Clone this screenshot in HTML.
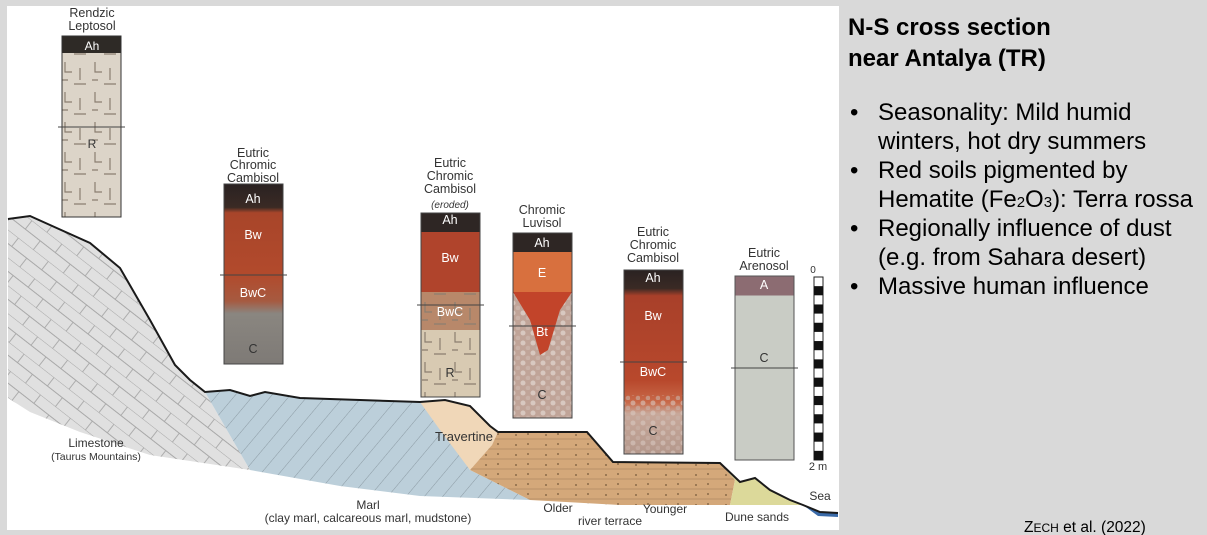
<!DOCTYPE html>
<html><head><meta charset="utf-8"><style>
html,body{margin:0;padding:0;background:#d9d9d9;}
body{width:1207px;height:535px;position:relative;overflow:hidden;font-family:"Liberation Sans",Arial,sans-serif;}
svg{position:absolute;left:0;top:0;}
.t{font-family:"Liberation Sans",Arial,sans-serif;}
</style></head><body>
<svg width="1207" height="535" viewBox="0 0 1207 535">
<defs>
<pattern id="brick" width="38" height="22" patternUnits="userSpaceOnUse" patternTransform="rotate(38)">
<path d="M0 0H38M0 11H38M9 0V11M28 11V22" stroke="#a8a8a8" stroke-width="0.9" fill="none"/></pattern>
<pattern id="hatch" width="14" height="14" patternUnits="userSpaceOnUse" patternTransform="rotate(40)">
<path d="M0 0V14" stroke="#7f8d96" stroke-width="0.8"/></pattern>
<pattern id="terr" width="30" height="10" patternUnits="userSpaceOnUse">
<path d="M0 9H30" stroke="#9c7a55" stroke-width="0.6"/><circle cx="6" cy="5" r="1" fill="#8a6a48"/><circle cx="18" cy="4" r="1" fill="#8a6a48"/></pattern>
<pattern id="grav" width="10" height="10" patternUnits="userSpaceOnUse">
<circle cx="3" cy="3" r="2.5" fill="#d8c8c0"/><circle cx="8" cy="8" r="2.3" fill="#c9b2a8"/></pattern>
<pattern id="cracks" width="30" height="30" patternUnits="userSpaceOnUse">
<path d="M5 2V12H12M20 8V20M14 24H26M2 20H8" stroke="#8a7e70" stroke-width="1.2" fill="none"/></pattern>
<linearGradient id="g1" x1="0" y1="0" x2="0" y2="1">
<stop offset="0" stop-color="#2a2222"/><stop offset="0.13" stop-color="#3a2a24"/><stop offset="0.16" stop-color="#a8452a"/><stop offset="0.5" stop-color="#b24a2c"/><stop offset="0.65" stop-color="#a65a40"/><stop offset="0.72" stop-color="#8a8680"/><stop offset="1" stop-color="#7e7a76"/></linearGradient>
<linearGradient id="g3" x1="0" y1="0" x2="0" y2="1">
<stop offset="0" stop-color="#2a2222"/><stop offset="0.1" stop-color="#3a2a24"/><stop offset="0.14" stop-color="#a8402a"/><stop offset="0.6" stop-color="#b8482c"/><stop offset="0.72" stop-color="#c86a4a"/><stop offset="0.78" stop-color="#c8a89a"/><stop offset="1" stop-color="#b4988c"/></linearGradient>
</defs>
<rect x="7" y="6" width="832" height="524" fill="#ffffff"/>

<path d="M8 219 L30 216 L50 225 L90 243 L120 268 L150 320 L175 365 L190 380 L205 392 L250 470 L150 455 L80 432 L30 412 L8 398 Z" fill="#e0e0e0"/>
<path d="M8 219 L30 216 L50 225 L90 243 L120 268 L150 320 L175 365 L190 380 L205 392 L250 470 L150 455 L80 432 L30 412 L8 398 Z" fill="url(#brick)"/>
<path d="M205 392 L230 390 L250 396 L265 392 L300 398 L360 400 L420 402 L430 404 L470 470 L530 500 L420 496 L340 486 L250 470 Z" fill="#bccfda"/>
<path d="M205 392 L230 390 L250 396 L265 392 L300 398 L360 400 L420 402 L430 404 L470 470 L530 500 L420 496 L340 486 L250 470 Z" fill="url(#hatch)"/>
<path d="M420 402 L445 400 L470 406 L490 426 L498 432 L492 445 L470 470 L440 430 Z" fill="#f0d7b8"/>
<path d="M498 432 L587 432 L613 462 L720 463 L735 480 L730 505 L620 505 L530 500 L470 470 L492 445 Z" fill="#d4a87a"/>
<path d="M498 432 L587 432 L613 462 L720 463 L735 480 L730 505 L620 505 L530 500 L470 470 L492 445 Z" fill="url(#terr)"/>
<path d="M720 463 L740 482 L755 478 L770 490 L790 500 L803 505 L730 505 L735 480 Z" fill="#dcd99a"/>
<path d="M803 505 L820 512 L838 513 L838 517 L818 516 Z" fill="#3a6aa8"/>
<path d="M8 219 L30 216 L50 225 L90 243 L120 268 L150 320 L175 365 L190 380 L205 392 L230 390 L250 396 L265 392 L300 398 L360 400 L420 402 L445 400 L470 406 L490 426 L498 432 L587 432 L613 462 L720 463 L740 482 L755 478 L770 490 L790 500 L803 505 L820 512 L838 513" fill="none" stroke="#1a1a1a" stroke-width="2"/>

<g>
<rect x="62" y="36" width="59" height="181" fill="#dcd4c8"/>
<rect x="62" y="36" width="59" height="181" fill="url(#cracks)"/>
<rect x="62" y="36" width="59" height="17" fill="#2e2a26"/>
<rect x="62" y="36" width="59" height="181" fill="none" stroke="#333" stroke-width="1"/>
<line x1="58" y1="127" x2="125" y2="127" stroke="#444"/>
<text x="92" y="50" font-size="12" fill="#fff" text-anchor="middle" class="t">Ah</text>
<text x="92" y="148" font-size="12" fill="#333" text-anchor="middle" class="t">R</text>
<text x="92" y="17" font-size="12.5" fill="#333" text-anchor="middle" class="t">Rendzic</text>
<text x="92" y="30" font-size="12.5" fill="#333" text-anchor="middle" class="t">Leptosol</text></g>

<g>
<rect x="224" y="184" width="59" height="180" fill="url(#g1)" stroke="#444"/>
<line x1="220" y1="275" x2="287" y2="275" stroke="#444"/>
<text x="253" y="203" font-size="12.5" fill="#fff" text-anchor="middle" class="t">Ah</text>
<text x="253" y="239" font-size="12.5" fill="#fff" text-anchor="middle" class="t">Bw</text>
<text x="253" y="297" font-size="12.5" fill="#fff" text-anchor="middle" class="t">BwC</text>
<text x="253" y="353" font-size="12.5" fill="#333" text-anchor="middle" class="t">C</text>
<text x="253" y="157" font-size="12.5" fill="#333" text-anchor="middle" class="t">Eutric</text>
<text x="253" y="169" font-size="12.5" fill="#333" text-anchor="middle" class="t">Chromic</text>
<text x="253" y="182" font-size="12.5" fill="#333" text-anchor="middle" class="t">Cambisol</text></g>

<g>
<rect x="421" y="213" width="59" height="184" fill="#d8cab2"/>
<rect x="421" y="213" width="59" height="184" fill="url(#cracks)"/>
<rect x="421" y="213" width="59" height="19" fill="#2e2624"/>
<rect x="421" y="232" width="59" height="60" fill="#b0442c"/>
<rect x="421" y="292" width="59" height="38" fill="#b8886a"/>
<rect x="421" y="292" width="59" height="38" fill="url(#cracks)"/>
<rect x="421" y="213" width="59" height="184" fill="none" stroke="#444"/>
<line x1="417" y1="305" x2="484" y2="305" stroke="#444"/>
<text x="450" y="224" font-size="12.5" fill="#fff" text-anchor="middle" class="t">Ah</text>
<text x="450" y="262" font-size="12.5" fill="#fff" text-anchor="middle" class="t">Bw</text>
<text x="450" y="316" font-size="12.5" fill="#fff" text-anchor="middle" class="t">BwC</text>
<text x="450" y="377" font-size="12.5" fill="#333" text-anchor="middle" class="t">R</text>
<text x="450" y="167" font-size="12.5" fill="#333" text-anchor="middle" class="t">Eutric</text>
<text x="450" y="180" font-size="12.5" fill="#333" text-anchor="middle" class="t">Chromic</text>
<text x="450" y="193" font-size="12.5" fill="#333" text-anchor="middle" class="t">Cambisol</text>
<text x="450" y="208" font-size="10" font-style="italic" fill="#333" text-anchor="middle" class="t">(eroded)</text></g>

<g>
<rect x="513" y="233" width="59" height="185" fill="#c0a498"/>
<rect x="513" y="292" width="59" height="126" fill="url(#grav)"/>
<rect x="513" y="233" width="59" height="19" fill="#2e2624"/>
<rect x="513" y="252" width="59" height="40" fill="#d8703e"/>
<path d="M513 292 L572 292 L560 310 L548 350 L540 355 L530 320 Z" fill="#c2442a"/>
<rect x="513" y="233" width="59" height="185" fill="none" stroke="#444"/>
<line x1="509" y1="326" x2="576" y2="326" stroke="#444"/>
<text x="542" y="247" font-size="12.5" fill="#fff" text-anchor="middle" class="t">Ah</text>
<text x="542" y="277" font-size="12.5" fill="#fff" text-anchor="middle" class="t">E</text>
<text x="542" y="336" font-size="12.5" fill="#fff" text-anchor="middle" class="t">Bt</text>
<text x="542" y="399" font-size="12.5" fill="#333" text-anchor="middle" class="t">C</text>
<text x="542" y="214" font-size="12.5" fill="#333" text-anchor="middle" class="t">Chromic</text>
<text x="542" y="227" font-size="12.5" fill="#333" text-anchor="middle" class="t">Luvisol</text></g>

<g>
<rect x="624" y="270" width="59" height="184" fill="url(#g3)"/>
<rect x="624" y="395" width="59" height="59" fill="url(#grav)" opacity="0.6"/>
<rect x="624" y="270" width="59" height="184" fill="none" stroke="#444"/>
<line x1="620" y1="362" x2="687" y2="362" stroke="#444"/>
<text x="653" y="282" font-size="12.5" fill="#fff" text-anchor="middle" class="t">Ah</text>
<text x="653" y="320" font-size="12.5" fill="#fff" text-anchor="middle" class="t">Bw</text>
<text x="653" y="376" font-size="12.5" fill="#fff" text-anchor="middle" class="t">BwC</text>
<text x="653" y="435" font-size="12.5" fill="#333" text-anchor="middle" class="t">C</text>
<text x="653" y="236" font-size="12.5" fill="#333" text-anchor="middle" class="t">Eutric</text>
<text x="653" y="249" font-size="12.5" fill="#333" text-anchor="middle" class="t">Chromic</text>
<text x="653" y="262" font-size="12.5" fill="#333" text-anchor="middle" class="t">Cambisol</text></g>

<g>
<rect x="735" y="276" width="59" height="184" fill="#c9ccc5" stroke="#555"/>
<rect x="735.5" y="276.5" width="58" height="19" fill="#8c6c72"/>
<line x1="731" y1="368" x2="798" y2="368" stroke="#444"/>
<text x="764" y="289" font-size="12.5" fill="#fff" text-anchor="middle" class="t">A</text>
<text x="764" y="362" font-size="12.5" fill="#333" text-anchor="middle" class="t">C</text>
<text x="764" y="257" font-size="12.5" fill="#333" text-anchor="middle" class="t">Eutric</text>
<text x="764" y="270" font-size="12.5" fill="#333" text-anchor="middle" class="t">Arenosol</text></g>

<g id="scale">
<rect x="814" y="277" width="9" height="183" fill="#fff" stroke="#222"/>
<text x="813" y="273" font-size="10" fill="#333" text-anchor="middle" class="t">0</text>
<text x="818" y="470" font-size="11" fill="#333" text-anchor="middle" class="t">2 m</text></g>

<g font-size="12" fill="#333" text-anchor="middle" class="t">
<text x="96" y="447">Limestone</text>
<text x="96" y="460" font-size="10.5">(Taurus Mountains)</text>
<text x="368" y="509">Marl</text>
<text x="368" y="522">(clay marl, calcareous marl, mudstone)</text>
<text x="464" y="441" font-size="13">Travertine</text>
<text x="558" y="512">Older</text>
<text x="610" y="525">river terrace</text>
<text x="665" y="513">Younger</text>
<text x="757" y="521">Dune sands</text>
<text x="820" y="500">Sea</text></g>

<g class="t" fill="#000">
<text x="848" y="35" font-size="24" font-weight="bold">N-S cross section</text>
<text x="848" y="66" font-size="24" font-weight="bold">near Antalya (TR)</text>
<g font-size="24">
<text x="850" y="120">•</text><text x="878" y="120">Seasonality: Mild humid</text>
<text x="878" y="149">winters, hot dry summers</text>
<text x="850" y="178">•</text><text x="878" y="178">Red soils pigmented by</text>
<text x="878" y="207">Hematite (Fe<tspan font-size="15">2</tspan>O<tspan font-size="15">3</tspan>): Terra rossa</text>
<text x="850" y="236">•</text><text x="878" y="236">Regionally influence of dust</text>
<text x="878" y="265">(e.g. from Sahara desert)</text>
<text x="850" y="294">•</text><text x="878" y="294">Massive human influence</text></g>
<text x="1024" y="532" font-size="15.5">Z<tspan font-size="12">ECH</tspan> et al. (2022)</text></g>
</svg>
<script>
var scaleSegments=[0,1,2,3,4,5,6,7,8,9,10,11,12,13,14,15,16,17,18,19];
var g=document.getElementById('scale');
scaleSegments.forEach(function(i){
 if(i%2===1){var r=document.createElementNS('http://www.w3.org/2000/svg','rect');
 r.setAttribute('x',814);r.setAttribute('y',277+i*183/20);r.setAttribute('width',9);r.setAttribute('height',183/20);r.setAttribute('fill','#111');
 
 
 g.appendChild(r);}
});
</script>
</body></html>
